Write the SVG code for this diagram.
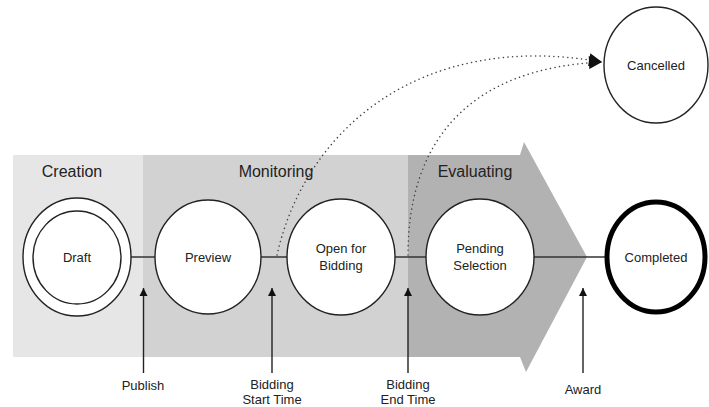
<svg xmlns="http://www.w3.org/2000/svg" width="709" height="407" viewBox="0 0 709 407">
<style>
  text { font-family: "Liberation Sans", Arial, sans-serif; fill: #222; text-anchor: middle; }
  .phase { font-size: 16px; }
  .lbl { font-size: 13px; }
  .node { fill: #fff; stroke: #222; stroke-width: 1.4; }
  .flow { stroke: #333; stroke-width: 1.6; fill: none; }
  .evt { stroke: #222; stroke-width: 1.4; fill: none; marker-end: url(#tri); }
  .dot { stroke: #444; stroke-width: 1.5; fill: none; stroke-dasharray: 0.1 4.5; stroke-linecap: round; }
</style>
<defs>
  <marker id="tri" viewBox="0 0 10 10" refX="10" refY="5" markerWidth="8" markerHeight="10" markerUnits="userSpaceOnUse" orient="auto">
    <path d="M0,0 L10,5 L0,10 z" fill="#111"/>
  </marker>
  <marker id="tri2" viewBox="0 0 10 10" refX="10" refY="5" markerWidth="14" markerHeight="13" markerUnits="userSpaceOnUse" orient="auto">
    <path d="M0,0 L10,5 L0,10 z" fill="#111"/>
  </marker>
</defs>
<rect width="709" height="407" fill="#fff"/>
<g id="phases">
  <rect x="13" y="155" width="131" height="202" fill="#e6e6e6"/>
  <rect x="143" y="155" width="265" height="202" fill="#d2d2d2"/>
  <polygon points="408,155 520,155 524,142 587,257 526,372 520,357 408,357" fill="#b2b2b2"/>
  <text class="phase" x="72" y="177">Creation</text>
  <text class="phase" x="276" y="177">Monitoring</text>
  <text class="phase" x="475" y="177">Evaluating</text>
</g>
<g id="connectors">
  <line class="flow" x1="131" y1="257" x2="606" y2="257"/>
  <path class="dot" d="M277,255 C305,130 420,30 602,62" marker-end="url(#tri2)"/>
  <path class="dot" d="M408,255 C408,140 470,68 602,62" marker-end="url(#tri2)"/>
  <line class="evt" x1="143.5" y1="373" x2="143.5" y2="288"/>
  <line class="evt" x1="272" y1="373" x2="272" y2="288"/>
  <line class="evt" x1="408" y1="373" x2="408" y2="288"/>
  <line class="evt" x1="583" y1="373" x2="583" y2="288"/>
  <text class="lbl" x="143" y="390">Publish</text>
  <text class="lbl" x="272" y="389">Bidding</text>
  <text class="lbl" x="272" y="404">Start Time</text>
  <text class="lbl" x="408" y="389">Bidding</text>
  <text class="lbl" x="408" y="404">End Time</text>
  <text class="lbl" x="583" y="394">Award</text>
</g>
<g id="draft">
  <ellipse class="node" cx="77" cy="257" rx="54" ry="59"/>
  <ellipse class="node" cx="77" cy="257.5" rx="44" ry="46.5"/>
  <text class="lbl" x="77" y="262">Draft</text>
</g>
<g id="preview">
  <ellipse class="node" cx="208" cy="257" rx="53" ry="57"/>
  <text class="lbl" x="208" y="262">Preview</text>
</g>
<g id="open-for-bidding">
  <ellipse class="node" cx="341" cy="257" rx="54" ry="58"/>
  <text class="lbl" x="341" y="253">Open for</text>
  <text class="lbl" x="341" y="270">Bidding</text>
</g>
<g id="pending-selection">
  <ellipse class="node" cx="480" cy="257" rx="54" ry="58"/>
  <text class="lbl" x="480" y="253">Pending</text>
  <text class="lbl" x="480" y="270">Selection</text>
</g>
<g id="completed">
  <ellipse cx="656" cy="257" rx="49" ry="55" fill="#fff" stroke="#000" stroke-width="5"/>
  <text class="lbl" x="656" y="262">Completed</text>
</g>
<g id="cancelled">
  <ellipse class="node" cx="656" cy="65" rx="52" ry="58"/>
  <text class="lbl" x="656" y="70">Cancelled</text>
</g>
</svg>
